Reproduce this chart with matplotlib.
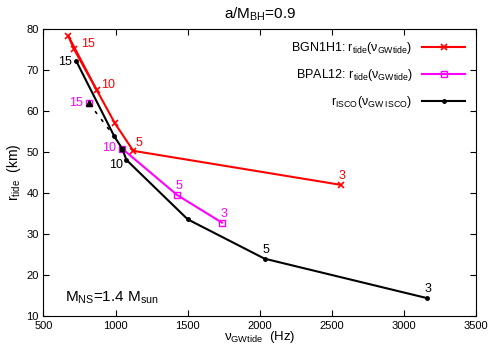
import numpy as np
import matplotlib
matplotlib.use('Agg')
import matplotlib.pyplot as plt

# BGN1H1 tidal radius vs GW frequency, labelled by mass ratio
bgn_f = [673, 712, 870, 996, 1123, 2562]
bgn_r = [78.2, 75.0, 65.0, 56.9, 50.2, 41.9]

# BPAL12
bpal_f = [1047, 1428, 1737]
bpal_r = [50.7, 39.4, 32.7]
bpal15 = (816, 61.8)

# ISCO
isco_f = [729, 992, 1047, 1075, 1500, 2033, 3157]
isco_r = [72.0, 53.7, 50.7, 48.0, 33.5, 23.9, 14.3]

plt.rcParams['font.family'] = ['Liberation Sans', 'DejaVu Sans']
plt.rcParams['mathtext.fontset'] = 'custom'
plt.rcParams['mathtext.rm'] = 'Liberation Sans'
plt.rcParams['mathtext.it'] = 'Liberation Sans'

fig = plt.figure(figsize=(4.93, 3.45), dpi=100)
ax = fig.add_axes([0.088, 0.085, 0.878, 0.832])

red = '#ff0000'
mag = '#ff00ff'

ax.plot(bgn_f, bgn_r, color=red, lw=1.5, marker='x', ms=4, mew=1.2,
        label=r'BGN1H1: r$_{\rm tide}$($\nu_{\rm GWtide}$)')
ax.plot([bgn_f[0], bgn_f[2]], [bgn_r[0], bgn_r[2]], color=red, lw=1.5)

ax.plot(bpal_f, bpal_r, color=mag, lw=1.5, marker='s', ms=4, mfc='none', mew=1.0,
        label=r'BPAL12: r$_{\rm tide}$($\nu_{\rm GWtide}$)')
ax.plot([bpal15[0]], [bpal15[1]], color=mag, marker='s', ms=4, mfc='none', mew=1.0)
ax.plot([bpal15[0]], [bpal15[1]], color='k', marker='^', ms=4, ls='none')
ax.plot([bpal_f[0]], [bpal_r[0]], color='k', marker='s', ms=3.5, ls='none')
ax.plot([bpal15[0], isco_f[1]], [bpal15[1], isco_r[1]], color='k', lw=1.2, ls=(0, (2, 4)))

ax.plot(isco_f, isco_r, color='k', lw=1.5, marker='o', ms=2.5,
        label=r'r$_{\rm ISCO}$($\nu_{\rm GW\ ISCO}$)')

fs = 9
ax.text(760, 75.5, '15', color=red, fontsize=fs)
ax.text(900, 65.5, '10', color=red, fontsize=fs)
ax.text(1140, 51.5, '5', color=red, fontsize=fs)
ax.text(2545, 43.3, '3', color=red, fontsize=fs)

ax.text(680, 61.2, '15', color=mag, fontsize=fs)
ax.text(905, 50.2, '10', color=mag, fontsize=fs)
ax.text(1415, 40.8, '5', color=mag, fontsize=fs)
ax.text(1725, 34.1, '3', color=mag, fontsize=fs)

ax.text(605, 71.2, '15', color='k', fontsize=fs)
ax.text(955, 46.0, '10', color='k', fontsize=fs)
ax.text(2020, 25.4, '5', color='k', fontsize=fs)
ax.text(3145, 15.8, '3', color='k', fontsize=fs)

ax.text(650, 13.5, r'M$_{\rm NS}$=1.4 M$_{\rm sun}$', fontsize=11)

ax.set_xlim(500, 3500)
ax.set_ylim(10, 80)
ax.set_xticks(np.arange(500, 3501, 500))
ax.set_yticks(np.arange(10, 81, 10))
ax.tick_params(direction='in', top=True, right=True, labelsize=8, length=4)
ax.set_title(r'a/M$_{\rm BH}$=0.9', fontsize=11, pad=7)
ax.set_xlabel(r'$\nu_{\rm GWtide}$  (Hz)', fontsize=9.5, labelpad=-1)
ax.set_ylabel(r'r$_{\rm tide}$  (km)', fontsize=10, labelpad=2)

ax.legend(loc='upper right', frameon=False, markerfirst=False, fontsize=9,
          handlelength=3.4, labelspacing=0.9, borderaxespad=0.5)

fig.savefig('out.png', dpi=100)
